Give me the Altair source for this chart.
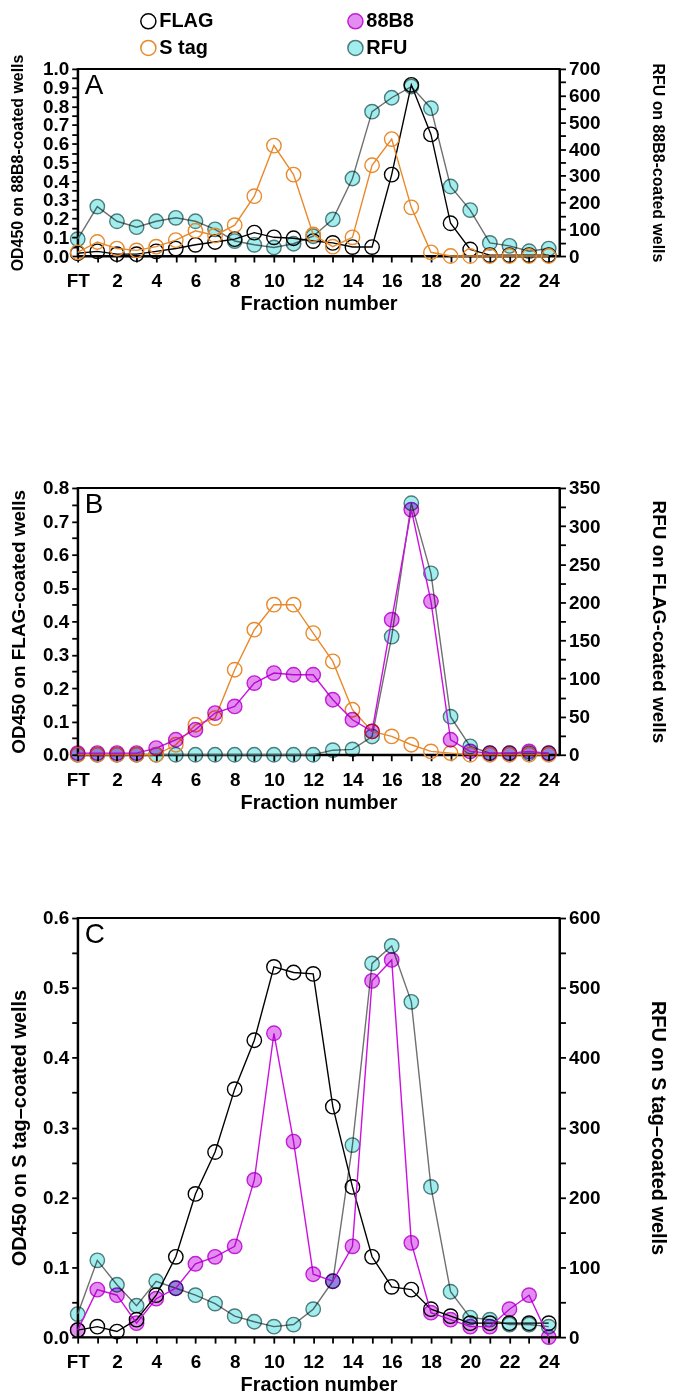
import altair as alt
import pandas as pd

FONT = "Liberation Sans"

# Fraction numbers (0 = FT)
fractions = list(range(0, 25))

# Panel A: 88B8-coated wells
a_flag = [0.015, 0.025, 0.01, 0.01, 0.025, 0.04, 0.06, 0.075, 0.09, 0.125, 0.10, 0.095, 0.08,
          0.07, 0.048, 0.048, 0.435, 0.915, 0.65, 0.175, 0.035, 0.005, 0.005, 0.005, 0.005]
a_stag = [0.02, 0.075, 0.04, 0.03, 0.05, 0.085, 0.135, 0.11, 0.165, 0.32, 0.59, 0.435, 0.115,
          0.05, 0.10, 0.485, 0.625, 0.26, 0.02, 0.0, 0.0, 0.0, 0.0, 0.0, 0.0]
a_rfu = [63, 185, 130, 108, 130, 143, 130, 100, 56, 42, 32, 46, 74, 137, 290, 540, 592, 634,
         553, 260, 172, 49, 38, 18, 28]

# Panel B: FLAG-coated wells
b_stag = [0.0, 0.0, 0.0, 0.0, 0.0, 0.03, 0.09, 0.11, 0.255, 0.375, 0.45, 0.45, 0.365, 0.28,
          0.135, 0.07, 0.055, 0.03, 0.01, 0.005, 0.0, 0.0, 0.0, 0.0, 0.0]
b_88b8 = [0.005, 0.005, 0.005, 0.005, 0.02, 0.045, 0.075, 0.125, 0.145, 0.215, 0.245, 0.24,
          0.24, 0.165, 0.105, 0.07, 0.405, 0.735, 0.46, 0.045, 0.01, 0.005, 0.005, 0.01, 0.005]
b_rfu = [0, 0, 0, 0, 0, 0, 0, 0, 0, 0, 0, 0, 0, 6, 7, 24, 155, 330, 238, 50, 11, 2, 2, 2, 2]

# Panel C: S tag-coated wells
c_flag = [0.01, 0.015, 0.008, 0.025, 0.06, 0.115, 0.205, 0.265, 0.355, 0.425, 0.53, 0.522,
          0.52, 0.33, 0.215, 0.115, 0.072, 0.068, 0.04, 0.03, 0.02, 0.02, 0.02, 0.02, 0.02]
c_88b8 = [0.01, 0.068, 0.06, 0.02, 0.055, 0.07, 0.105, 0.115, 0.13, 0.225, 0.435, 0.28, 0.09,
          0.08, 0.13, 0.51, 0.54, 0.135, 0.035, 0.025, 0.015, 0.015, 0.04, 0.06, 0.0]
c_rfu = [33, 110, 75, 45, 80, 70, 60, 48, 30, 22, 15, 18, 40, 80, 275, 535, 560, 480, 215, 65,
         28, 25, 18, 18, 15]

# legend order (column-wise): FLAG, S tag | 88B8, RFU
series_names = ["FLAG", "S tag", "88B8", "RFU"]
line_color = {"FLAG": "#000000", "88B8": "#CC10E0", "S tag": "#E8892B", "RFU": "#707070"}
stroke_color = {"FLAG": "#000000", "88B8": "#C21CD6", "S tag": "#E8892B", "RFU": "#4C7C7C"}
fill_color = {"FLAG": "transparent", "88B8": "#E48DF0", "S tag": "transparent", "RFU": "#A2EDED"}

PLOT_W = 484
X_MAX = 24.55
PT_SIZE = 210

axis_common = dict(domainColor="black", domainWidth=2, tickColor="black", tickWidth=1.8,
                   tickSize=6, labelFont=FONT, labelFontSize=19, labelFontWeight="bold",
                   labelColor="black", titleFont=FONT, titleFontWeight="bold",
                   titleColor="black", grid=False, labelOverlap=False, labelFlush=False)


def x_enc():
    return alt.X("frac:Q",
                 scale=alt.Scale(domain=[0, X_MAX], nice=False, zero=False),
                 axis=alt.Axis(values=fractions,
                               labelExpr="datum.value == 0 ? 'FT' : (datum.value % 2 == 0 ? datum.label : '')",
                               title="Fraction number", labelPadding=10, titlePadding=3,
                               titleFontSize=20, **axis_common))


def y_left(ymax, title, tsize):
    vals = [round(i * 0.05, 2) for i in range(0, int(round(ymax / 0.05)) + 1)]
    return alt.Y("value:Q", scale=alt.Scale(domain=[0, ymax], nice=False, zero=True),
                 axis=alt.Axis(values=vals, orient="left",
                               labelExpr="round(datum.value*100) % 10 == 0 ? format(datum.value, '.1f') : ''",
                               title=title, labelPadding=3, titlePadding=33 - tsize,
                               titleFontSize=tsize, **axis_common))


def y_right(ymax, minor, major, title, tsize):
    vals = list(range(0, ymax + 1, minor))
    return alt.Y("value:Q", scale=alt.Scale(domain=[0, ymax], nice=False, zero=True),
                 axis=alt.Axis(values=vals, orient="right",
                               labelExpr=f"datum.value % {major} == 0 ? format(datum.value, 'd') : ''",
                               title=title, labelPadding=3, titlePadding=58 - tsize / 2,
                               titleFontSize=tsize, **axis_common))


def sdf(name, values):
    return pd.DataFrame({"frac": fractions, "value": values, "series": name})


legend_def = alt.Legend(orient="none", legendX=61, legendY=-58, columns=2, title=None,
                        labelFont=FONT, labelFontSize=20, labelFontWeight="bold",
                        labelColor="black", symbolType="circle", symbolSize=230,
                        symbolStrokeWidth=1.5, labelOffset=1, rowPadding=5,
                        columnPadding=131, padding=0)


def series_layers(name, values, yenc, with_legend):
    df = sdf(name, values)
    line = alt.Chart(df).mark_line(color=line_color[name], strokeWidth=1.4).encode(
        x=x_enc(), y=yenc)
    filled = fill_color[name] != "transparent"
    kw = dict(shape="circle", size=PT_SIZE, strokeWidth=1.4, opacity=1)
    if filled:
        kw["blend"] = "multiply"
    if with_legend:
        pts = alt.Chart(df).mark_point(**kw).encode(
            x=x_enc(), y=yenc,
            stroke=alt.Stroke("series:N",
                              scale=alt.Scale(domain=series_names,
                                              range=[stroke_color[s] for s in series_names]),
                              legend=legend_def),
            fill=alt.Fill("series:N",
                          scale=alt.Scale(domain=series_names,
                                          range=[fill_color[s] for s in series_names]),
                          legend=legend_def))
    else:
        kw.update(stroke=stroke_color[name], fill=fill_color[name])
        pts = alt.Chart(df).mark_point(**kw).encode(x=x_enc(), y=yenc)
    return [line, pts]


def panel(letter, left_series, ymax_left, left_title, rfu_values, ymax_right, minor, major,
          right_title, height, tsize, with_legend):
    yl = y_left(ymax_left, left_title, tsize)
    yr = y_right(ymax_right, minor, major, right_title, tsize)
    right_layers = series_layers("RFU", rfu_values, yr, with_legend)
    left_layers = []
    for name, vals in left_series:
        left_layers += series_layers(name, vals, yl, with_legend)
    label = alt.Chart(pd.DataFrame({"t": [letter]})).mark_text(
        align="left", baseline="top", font=FONT, fontSize=28, color="black").encode(
        text="t:N", x=alt.value(7), y=alt.value(3))
    left = alt.layer(*left_layers, label)
    right = alt.layer(*right_layers)
    return alt.layer(right, left).resolve_scale(y="independent").properties(
        width=PLOT_W, height=height)


pA = panel("A", [("FLAG", a_flag), ("S tag", a_stag)], 1.0, "OD450 on 88B8-coated wells",
           a_rfu, 700, 50, 100, "RFU on 88B8-coated wells", 188, 16, True)
pB = panel("B", [("S tag", b_stag), ("88B8", b_88b8)], 0.8, "OD450 on FLAG-coated wells",
           b_rfu, 350, 25, 50, "RFU on FLAG-coated wells", 268, 19, False)
pC = panel("C", [("FLAG", c_flag), ("88B8", c_88b8)], 0.6, "OD450 on S tag\u2013coated wells",
           c_rfu, 600, 50, 100, "RFU on S tag\u2013coated wells", 421, 20, False)

top = alt.vconcat(pA, pB, spacing=164)
chart = alt.vconcat(top, pC, spacing=95).properties(padding=0).configure(
    background="white").configure_view(stroke="black", strokeWidth=2)

chart.save("out.html", embed_options={"renderer": "svg", "actions": False})
